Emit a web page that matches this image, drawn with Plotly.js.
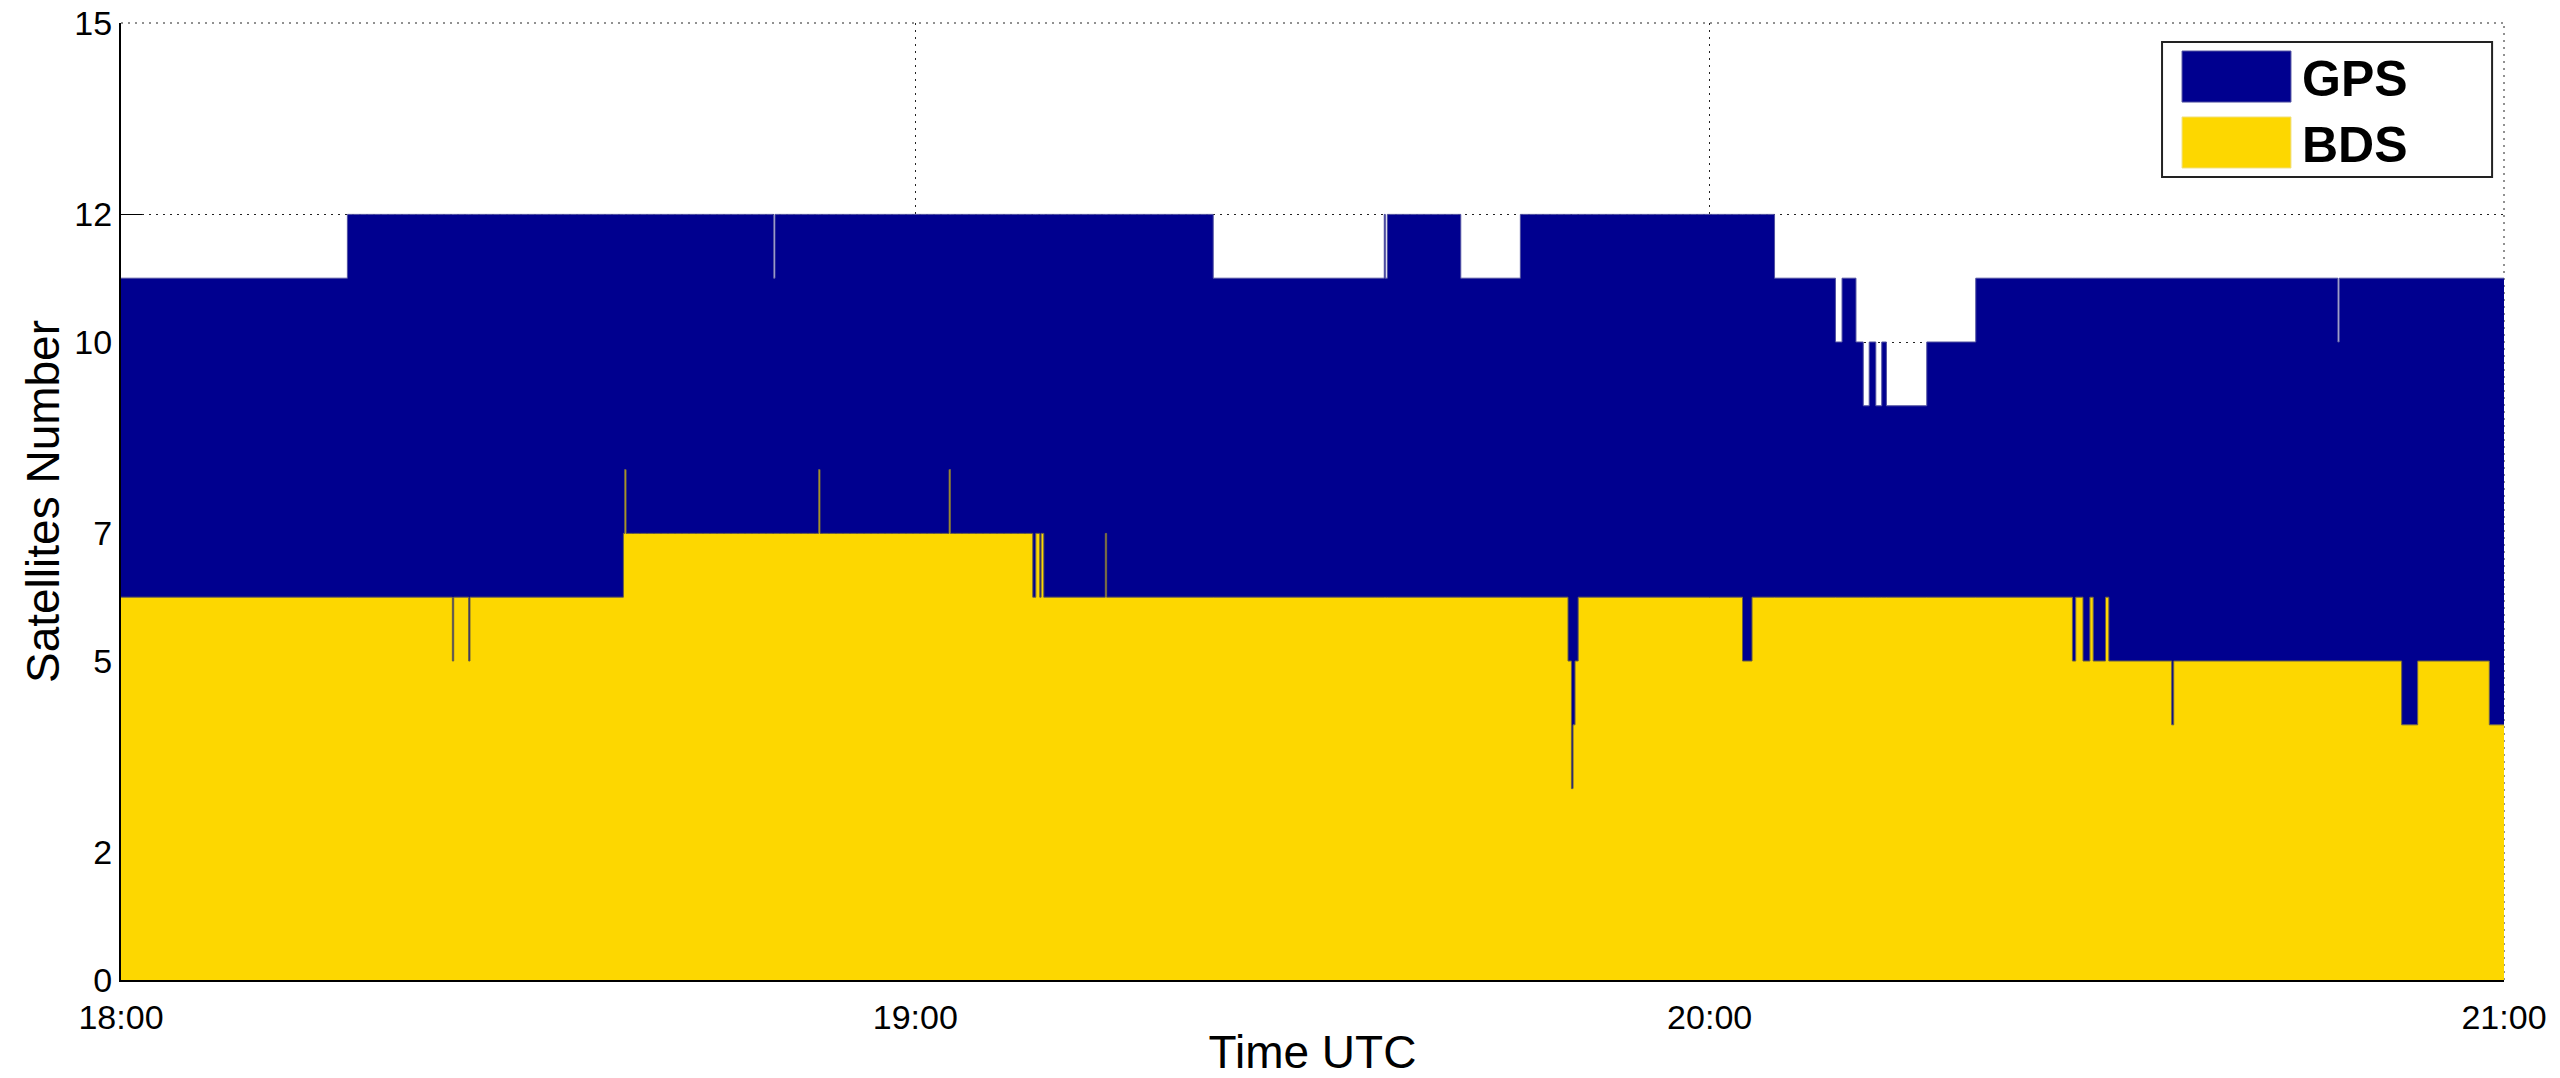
<!DOCTYPE html>
<html>
<head>
<meta charset="utf-8">
<script src="https://cdn.plot.ly/plotly-3.0.1.min.js"></script>
<style>html,body{margin:0;padding:0;background:#fff;}</style>
</head>
<body>
<div id="chart" style="width:2560px;height:1078px;"></div>
<script>
// Time of each change, minutes after 18:00 UTC
const minutesAfter1800 = [0, 17.1, 25.03, 25.13, 26.26, 26.36, 37.95, 38.05, 38.15, 49.3, 49.4, 52.7, 52.8,
  62.55, 62.65, 68.87, 69.1, 69.4, 69.5, 69.7, 74.35, 74.45, 82.5, 95.42, 95.5, 95.65, 101.2, 105.7,
  109.3, 109.56, 109.68, 109.83, 110.07, 122.48, 123.2, 124.9, 129.5, 130.0, 131.05, 131.6, 132.05,
  132.55, 133.0, 133.35, 136.4, 140.1, 147.4, 147.65, 148.2, 148.72, 148.97, 149.9, 150.15, 154.9,
  155.05, 167.45, 167.55, 172.27, 173.48, 178.89, 180];

// Number of BDS satellites (bottom layer)
const bdsCount = [6, 6, 5, 6, 5, 6, 7, 8, 7, 7, 7, 8, 7,
  8, 7, 6, 7, 6, 7, 6, 7, 6, 6, 6, 6, 6, 6, 6,
  5, 3, 4, 5, 6, 5, 6, 6, 6, 6, 6, 6, 6,
  6, 6, 6, 6, 6, 5, 6, 5, 6, 5, 6, 5, 4,
  5, 5, 5, 4, 5, 4, 4];

// Number of GPS satellites (stacked on top of BDS)
const gpsCount = [5, 6, 7, 6, 7, 6, 5, 4, 5, 4, 5, 4, 5,
  4, 5, 6, 5, 6, 5, 6, 5, 6, 5, 6, 5, 6, 5, 6,
  7, 9, 8, 7, 6, 7, 6, 5, 4, 5, 4, 3, 4,
  3, 4, 3, 4, 5, 6, 5, 6, 5, 6, 5, 6, 7,
  6, 5, 6, 7, 6, 7, 7];

const seriesNames = ['GPS', 'BDS'];
const seriesColors = ['#00008F', '#FDD700'];

const xTickVals = [0, 60, 120, 180];
const xTickText = ['18:00', '19:00', '20:00', '21:00'];
const yTickVals = [0, 2, 5, 7, 10, 12, 15];

const FONT = 'Liberation Sans, Arial, sans-serif';
const DOTS = '2px,5px';

const traces = [
  {
    x: minutesAfter1800, y: bdsCount, name: seriesNames[1],
    type: 'scatter', mode: 'lines', stackgroup: 'sats',
    line: {shape: 'hv', width: 1, color: '#6b6040'},
    fillcolor: seriesColors[1], showlegend: false, hoverinfo: 'skip'
  },
  {
    x: minutesAfter1800, y: gpsCount, name: seriesNames[0],
    type: 'scatter', mode: 'lines', stackgroup: 'sats',
    line: {shape: 'hv', width: 1, color: '#5050a0'},
    fillcolor: seriesColors[0], showlegend: false, hoverinfo: 'skip'
  }
];

// legend box geometry (paper coords)
const lg = {x0: 0.8565, x1: 0.9950, y0: 0.8391, y1: 0.9801,
  sx0: 0.8649, sx1: 0.9106, tx: 0.9144,
  rows: [{y0: 0.9174, y1: 0.9707, ty: 0.9420}, {y0: 0.8485, y1: 0.9018, ty: 0.8725}]};

const shapes = [
  // dotted grid lines along the top and right edges of the plot area
  {type: 'line', xref: 'paper', yref: 'paper', x0: 0, x1: 1, y0: 1, y1: 1,
   line: {color: '#222', width: 1, dash: DOTS}, layer: 'below'},
  {type: 'line', xref: 'paper', yref: 'paper', x0: 1, x1: 1, y0: 0, y1: 1,
   line: {color: '#222', width: 1, dash: DOTS}, layer: 'below'},
  {type: 'rect', xref: 'paper', yref: 'paper', x0: lg.x0, x1: lg.x1, y0: lg.y0, y1: lg.y1,
   fillcolor: '#ffffff', line: {color: '#222', width: 2}, layer: 'above'}
];
const annotations = [];
seriesNames.forEach((nm, i) => {
  const r = lg.rows[i];
  shapes.push({type: 'rect', xref: 'paper', yref: 'paper', x0: lg.sx0, x1: lg.sx1, y0: r.y0, y1: r.y1,
    fillcolor: seriesColors[i], line: {color: i === 0 ? '#5050a0' : '#f0e080', width: 1}, layer: 'above'});
  annotations.push({xref: 'paper', yref: 'paper', x: lg.tx, y: r.ty, xanchor: 'left', yanchor: 'middle',
    text: nm, showarrow: false, font: {family: FONT, size: 50, color: '#000', weight: 'bold'}});
});

const layout = {
  width: 2560, height: 1078,
  margin: {l: 121, r: 56, t: 23, b: 98},
  paper_bgcolor: '#ffffff', plot_bgcolor: '#ffffff',
  showlegend: false,
  font: {family: FONT, color: '#000'},
  xaxis: {
    range: [0, 180], tickvals: xTickVals, ticktext: xTickText,
    showgrid: true, gridcolor: '#222', gridwidth: 1, griddash: DOTS,
    showline: true, linecolor: '#000', linewidth: 2,
    ticks: 'inside', ticklen: 21, tickwidth: 1.5, tickcolor: '#000',
    ticklabelstandoff: 6,
    layer: 'below traces', zeroline: false,
    tickfont: {family: FONT, size: 34, color: '#000'},
    title: {text: 'Time UTC', font: {family: FONT, size: 46, color: '#000'}, standoff: 4},
    automargin: false, fixedrange: true
  },
  yaxis: {
    range: [0, 15], tickvals: yTickVals,
    showgrid: true, gridcolor: '#222', gridwidth: 1, griddash: DOTS,
    showline: true, linecolor: '#000', linewidth: 2,
    ticks: 'inside', ticklen: 21, tickwidth: 1.5, tickcolor: '#000',
    layer: 'below traces', zeroline: false,
    tickfont: {family: FONT, size: 34, color: '#000'},
    title: {text: 'Satellites Number', font: {family: FONT, size: 46, color: '#000'}, standoff: 0},
    automargin: false, fixedrange: true
  },
  shapes: shapes,
  annotations: annotations
};

Plotly.newPlot('chart', traces, layout, {displayModeBar: false, staticPlot: true});
</script>
</body>
</html>
